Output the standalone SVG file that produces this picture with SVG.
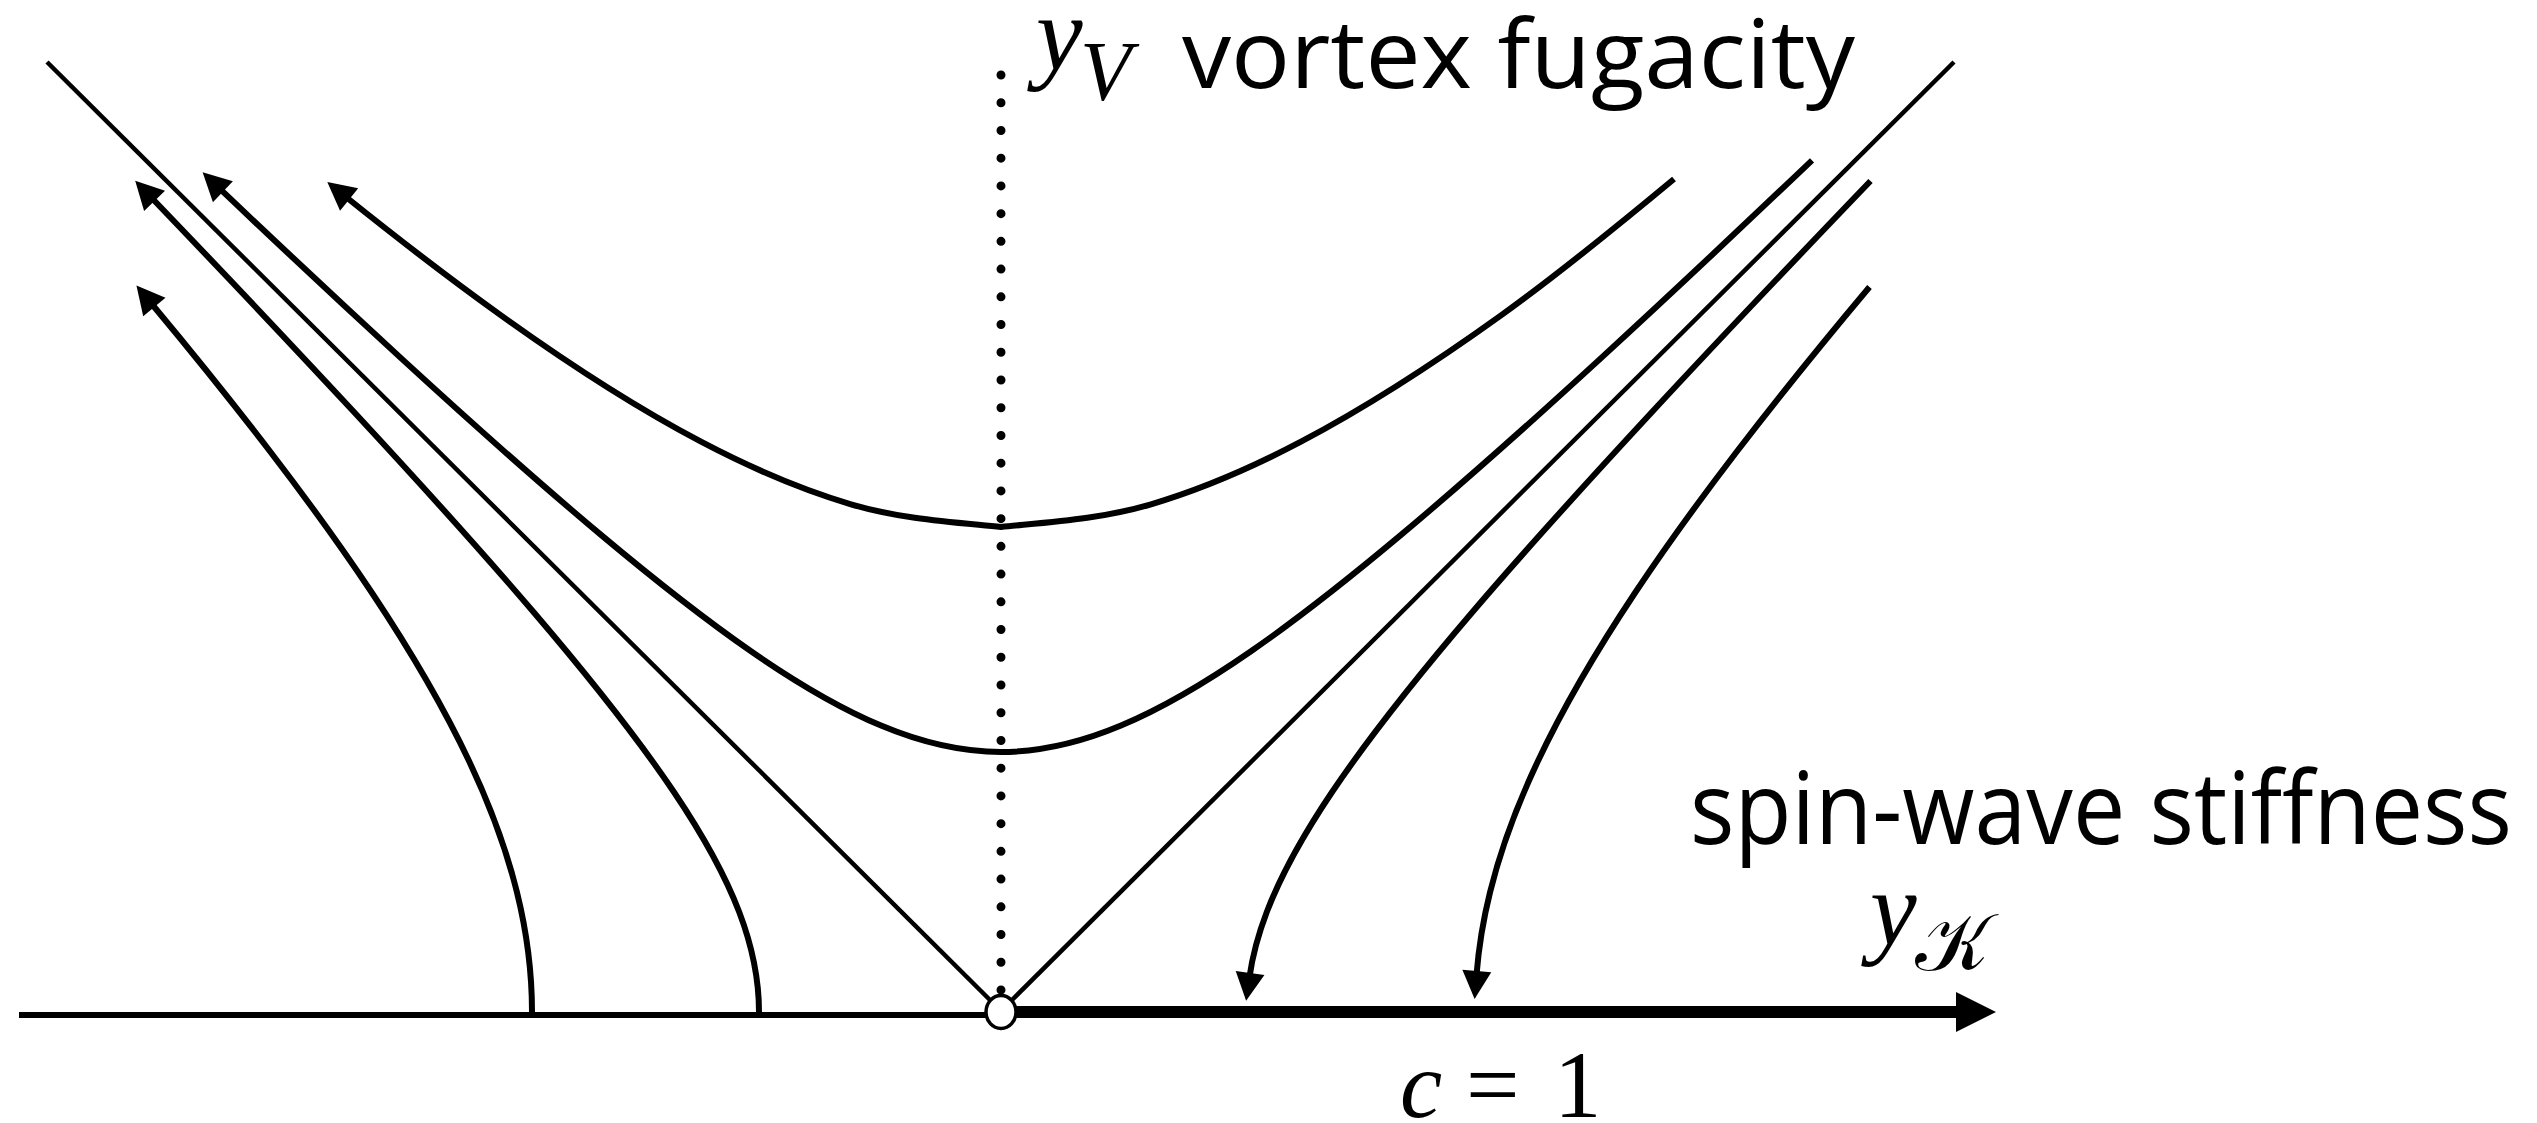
<svg xmlns="http://www.w3.org/2000/svg" width="2537" height="1123" viewBox="0 0 2537 1123">
<style>
.flow{fill:none;stroke:#000;stroke-width:6;stroke-linecap:butt}
.arr{marker-end:url(#ah)}
.sep{fill:none;stroke:#000;stroke-width:4.5}
.mi{font-family:"Liberation Serif","DejaVu Serif",serif;font-style:italic;fill:#000}
.mr{font-family:"Liberation Serif","DejaVu Serif",serif;fill:#000}
.txt{font-family:"Open Sans",Lato,"Liberation Sans",sans-serif;fill:#000}
</style>
<defs>
<marker id="ah" markerUnits="userSpaceOnUse" viewBox="-10 -20 40 40" markerWidth="40" markerHeight="40" refX="0" refY="0" orient="auto">
<path d="M-4,-14.5 L24,0 L-4,14.5 Z" fill="#000"/>
</marker>
</defs>
<rect width="2537" height="1123" fill="#fff"/>
<g id="axes">
<line x1="19" y1="1015" x2="990" y2="1015" stroke="#000" stroke-width="6"/>
<line x1="1012" y1="1012" x2="1958" y2="1012" stroke="#000" stroke-width="12"/>
<path d="M1956,992 L1996,1012 L1956,1032 Z" fill="#000"/>
<line x1="1001" y1="75" x2="1001" y2="990" stroke="#000" stroke-width="9" stroke-linecap="round" stroke-dasharray="0 27.727"/>
</g>
<g id="connectors">
<line class="sep" x1="47" y1="62" x2="990" y2="1000"/>
<line class="sep" x1="1954" y1="62" x2="1012" y2="1000"/>
<path class="flow arr" d="M532,1012 C532,972 526.8,932 516.9,892 C506.2,848.7 489.9,805.3 469.5,762 C442.8,705.3 409.2,648.7 371.4,592 C340.3,545.3 306.3,498.7 270.5,452 C232.7,402.7 192.9,353.3 151.8,304"/>
<path class="flow arr" d="M759,1012 C759,978.7 751.9,945.3 739.2,912 C723.9,872 700.8,832 673.9,792 C633.5,732 584.8,672 533.5,612 C476.5,545.3 415.8,478.7 354,412 C287.9,340.7 220.2,269.3 151.8,198"/>
<path class="flow arr" d="M1812,160.3 C1741.7,227.3 1671.3,293.6 1601,358.1 C1534.3,419.3 1467.7,479 1401,534.9 C1351,576.8 1301,616.6 1251,651.3 C1207.7,681.3 1164.3,707.4 1121,725.6 C1081,742.4 1041,752 1001,752 C961,752 921,742.4 881,725.6 C837.7,707.4 794.3,681.3 751,651.3 C701,616.6 651,576.8 601,534.9 C534.3,479 467.7,419.3 401,358.1 C340.7,302.7 280.3,246.2 220,188.9"/>
<path class="flow arr" d="M1674,179 C1615,228 1558,274.5 1501,315.4 C1434.3,363.3 1367.7,406.6 1301,441.7 C1251,468 1201,489.5 1151,504.3 C1101,519.1 1051,522 1001,527 C951,522 901,519.1 851,504.3 C801,489.5 751,468 701,441.7 C634.3,406.6 567.7,363.3 501,315.4 C449.3,278.3 397.7,238.5 346,197"/>
<path class="flow arr" transform="translate(4,0)" d="M1866.5,181 C1792.6,258 1719.4,335 1648,412 C1586.2,478.7 1525.5,545.3 1468.5,612 C1417.2,672 1368.5,732 1328.1,792 C1301.2,832 1278.1,872 1262.8,912 C1254.5,933.7 1248.6,955.3 1245.5,977"/>
<path class="flow arr" transform="translate(5,0)" d="M1864.5,287 C1818.3,342 1773.7,397 1731.5,452 C1695.7,498.7 1661.7,545.3 1630.6,592 C1592.8,648.7 1559.2,705.3 1532.5,762 C1512.1,805.3 1495.8,848.7 1485.1,892 C1478.2,919.7 1473.7,947.3 1471.5,975"/>
</g>
<g id="fixed-point">
<ellipse cx="1001" cy="1012" rx="15" ry="16.5" fill="#fff" stroke="#000" stroke-width="3.5"/>
</g>
<g id="label-yV">
<text class="mi" x="1036" y="69" font-size="105">y</text>
<text class="mi" x="1080" y="100" font-size="84">V</text>
</g>
<g id="label-vortex">
<text class="txt" x="1182" y="88" font-size="96" textLength="673" lengthAdjust="spacingAndGlyphs">vortex fugacity</text>
</g>
<g id="label-spinwave">
<text class="txt" x="1690" y="844" font-size="100" textLength="822" lengthAdjust="spacingAndGlyphs">spin-wave stiffness</text>
</g>
<g id="label-yK">
<text class="mi" x="1870" y="944" font-size="105">y</text>
<text class="mr" x="1915" y="970" font-size="80" style="font-family:'DejaVu Serif','DejaVu Sans','Noto Sans',serif">𝒦</text>
</g>
<g id="label-c">
<text class="mi" x="1400" y="1117" font-size="95">c</text>
<text class="mr" x="1466" y="1117" font-size="95">=</text>
<text class="mr" x="1554" y="1117" font-size="95">1</text>
</g>
</svg>
